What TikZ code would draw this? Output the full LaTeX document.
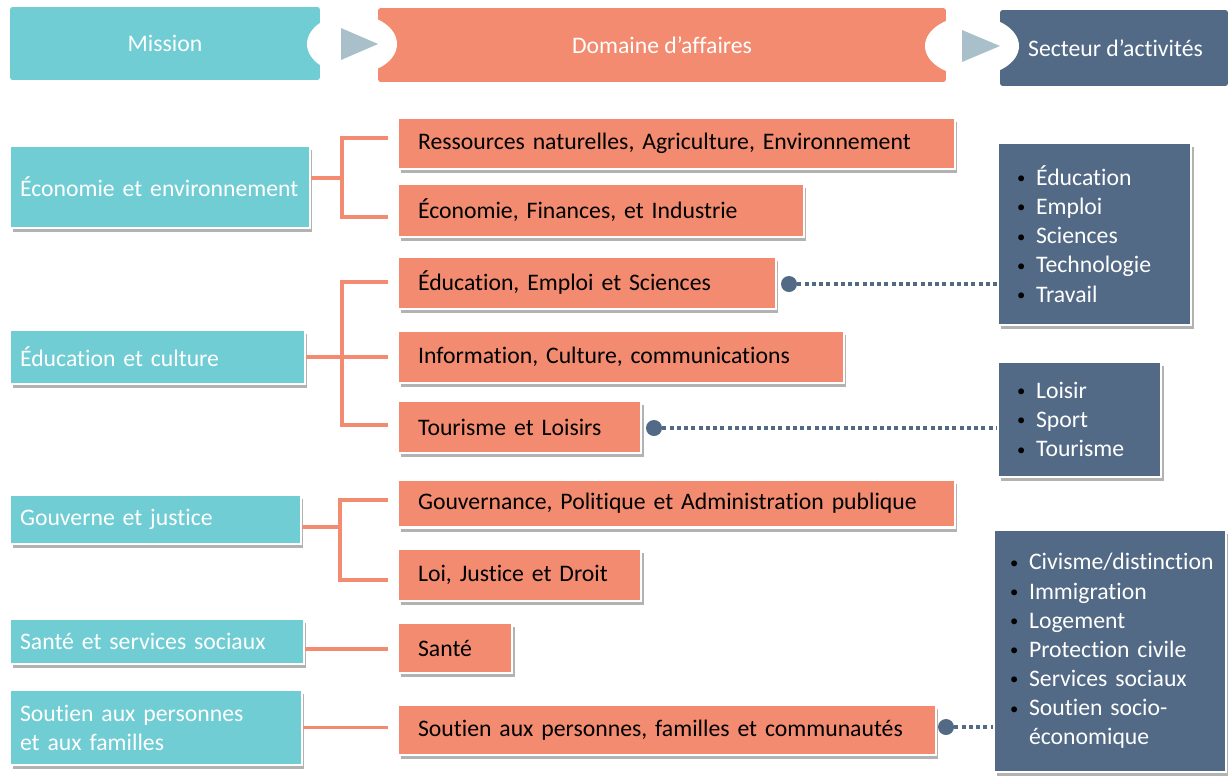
\documentclass[tikz,border=0pt]{standalone}
\usepackage{fontspec}
\setmainfont{Carlito}[Ligatures=NoCommon]
\usepackage{xcolor}
\usepackage{graphicx}
\usetikzlibrary{shadows}

\definecolor{turquoise}{HTML}{6FCDD3}
\definecolor{saumon}{HTML}{F28B70}
\definecolor{ardoise}{HTML}{526A85}
\definecolor{grisbleu}{HTML}{A9BFCA}

\newcommand\puce{\makebox[0.42cm][l]{\hspace{0.04cm}\raisebox{0.07em}{\scalebox{0.7}{\textcolor{black}{\textbullet}}}}}

\begin{document}
\begin{tikzpicture}[x=0.02cm,y=-0.02cm,
  every node/.style={font=\fontsize{13.5}{16.6}\selectfont},
  ombre/.style={drop shadow={shadow xshift=0.05cm,shadow yshift=-0.08cm,opacity=0.3,fill=black}},
  tete/.style={inner sep=0pt,text=white,rounded corners=1.5pt},
  mission/.style={ombre,fill=turquoise,draw=white,line width=1.2pt,text=white,anchor=west,align=left,inner xsep=0.2cm,inner ysep=0pt},
  domaine/.style={ombre,fill=saumon,draw=white,line width=1.2pt,text=black,anchor=west,align=left,inner xsep=0.4cm,inner ysep=0pt},
  secteur/.style={ombre,fill=ardoise,draw=white,line width=1.2pt,text=white,anchor=west,align=left,inner ysep=0pt},
  lien/.style={draw=saumon,line width=0.07cm},
  point/.style={circle,fill=ardoise,inner sep=0pt,minimum size=0.32cm},
  pointille/.style={draw=ardoise,line width=0.08cm,dash pattern=on 0.08cm off 0.065cm}]
\useasboundingbox (0,0) rectangle (1228,775);

% en-tete
\node[tete,fill=turquoise,minimum width=6.2cm,minimum height=1.46cm] (hm) at (165,43.5) {Mission};
\node[tete,fill=saumon,minimum width=11.36cm,minimum height=1.48cm] (hd) at (662,45) {Domaine d’affaires};
\node[tete,fill=ardoise,minimum width=4.56cm,minimum height=1.52cm] (hs) at (1114,48) {\hspace{0.06cm}Secteur d’activités};
\fill[white] (352,44) ellipse [x radius=0.9cm,y radius=0.6cm];
\fill[white] (972,46) ellipse [x radius=0.94cm,y radius=0.6cm];
\fill[grisbleu] (341,28) -- (341,60) -- (378,44) -- cycle;
\fill[grisbleu] (962,30) -- (962,62) -- (1000,46) -- cycle;

% missions
\node[mission,text width=5.6cm,minimum height=1.64cm] (m1) at (9,187) {Économie et environnement};
\node[mission,text width=5.5cm,minimum height=1.08cm] (m2) at (9,357) {Éducation et culture};
\node[mission,text width=5.42cm,minimum height=0.98cm] (m3) at (9,519.5) {Gouverne et justice};
\node[mission,text width=5.48cm,minimum height=0.9cm] (m4) at (9,641.5) {Santé et services sociaux};
\node[mission,text width=5.44cm,minimum height=1.5cm] (m5) at (9,727.5) {Soutien aux personnes\\et aux familles};

% domaines
\node[domaine,text width=10.34cm,minimum height=1.02cm] (d1) at (397,143.5) {Ressources naturelles, Agriculture, Environnement};
\node[domaine,text width=7.32cm,minimum height=1.06cm] (d2) at (397,210.5) {Économie, Finances, et Industrie};
\node[domaine,text width=6.76cm,minimum height=1.04cm] (d3) at (397,283) {Éducation, Emploi et Sciences};
\node[domaine,text width=8.12cm,minimum height=1.04cm] (d4) at (397,357) {Information, Culture, communications};
\node[domaine,text width=4.06cm,minimum height=1.04cm] (d5) at (397,427) {Tourisme et Loisirs};
\node[domaine,text width=10.34cm,minimum height=0.96cm] (d6) at (397,503.5) {Gouvernance, Politique et Administration publique};
\node[domaine,text width=4.06cm,minimum height=1.04cm] (d7) at (397,575) {Loi, Justice et Droit};
\node[domaine,text width=1.48cm,minimum height=1.0cm] (d8) at (397,648) {Santé};
\node[domaine,text width=9.96cm,minimum height=1.0cm] (d9) at (397,730) {Soutien aux personnes, familles et communautés};

% liens mission -> domaine
\coordinate (g1) at (342,178);
\coordinate (g2) at (342,357);
\coordinate (g3) at (340,527);
\draw[lien] (m1.east |- g1) -- (g1);
\draw[lien,shorten >=0.18cm] (g1) |- (d1.west |- 0,138);
\draw[lien,shorten >=0.18cm] (g1) |- (d2.west |- 0,217);
\draw[lien,shorten >=0.18cm] (m2.east) -- (d4.west);
\draw[lien,shorten >=0.18cm] (g2) |- (d3.west |- 0,282);
\draw[lien,shorten >=0.18cm] (g2) |- (d5.west |- 0,425);
\draw[lien] (m3.east |- g3) -- (g3);
\draw[lien,shorten >=0.18cm] (g3) |- (d6.west |- 0,500);
\draw[lien,shorten >=0.18cm] (g3) |- (d7.west |- 0,580);
\draw[lien,shorten >=0.18cm] (m4.east |- 0,649) -- (d8.west |- 0,649);
\draw[lien,shorten >=0.18cm] (m5.east) -- (m5.east -| d9.west);

% secteurs
\node[secteur,inner xsep=0.34cm,text width=3.18cm,minimum height=3.64cm] (s1) at (997,234)
  {\puce Éducation\\\puce Emploi\\\puce Sciences\\\puce Technologie\\\puce Travail};
\node[secteur,inner xsep=0.34cm,text width=2.58cm,minimum height=2.3cm] (s2) at (997,419.5)
  {\puce Loisir\\\puce Sport\\\puce Tourisme};
\node[secteur,inner xsep=0.28cm,text width=4.08cm,minimum height=4.84cm] (s3) at (993,651)
  {\puce Civisme/distinction\\\puce Immigration\\\puce Logement\\\puce Protection civile\\\puce Services sociaux\\\puce Soutien socio-\\\hspace*{0.42cm}économique};

% liens domaine -> secteur
\node[point] (p1) at (789,284) {};
\node[point] (p2) at (654,428) {};
\node[point] (p3) at (946,727) {};
\draw[pointille] (p1) -- (s1.west |- p1);
\draw[pointille] (p2) -- (s2.west |- p2);
\draw[pointille] (p3) -- (s3.west |- p3);
\end{tikzpicture}
\end{document}
